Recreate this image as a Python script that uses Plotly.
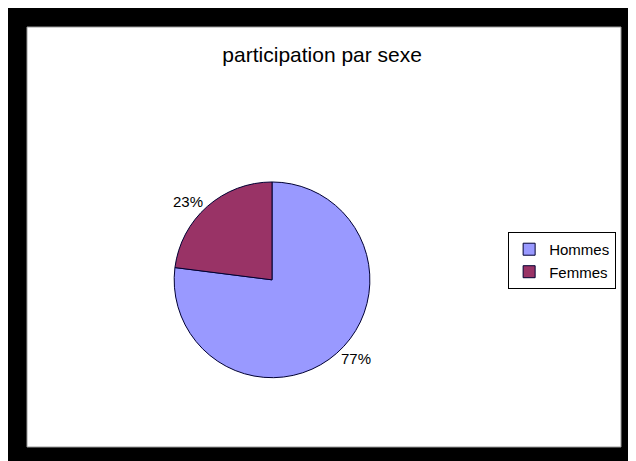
import plotly.graph_objects as go

title = "participation par sexe"
labels = ["Hommes", "Femmes"]
values = [77, 23]
colors = ["#9999FF", "#993366"]

fig = go.Figure()
fig.add_trace(go.Pie(
    labels=labels,
    values=values,
    sort=False,
    direction="clockwise",
    rotation=0,
    marker=dict(colors=colors, line=dict(color="#000033", width=1)),
    texttemplate="%{percent:.0%}",
    textposition="outside",
    textfont=dict(family="Liberation Sans", size=15, color="black"),
    domain=dict(x=[0.2125, 0.6125], y=[0.165, 0.631]),
    hoverinfo="label+percent",
))

fig.update_layout(
    width=636, height=461,
    margin=dict(l=19, r=23, t=19, b=22),
    paper_bgcolor="black",
    title=dict(text=title, x=0.494, xanchor="center", y=0.898, yanchor="middle",
               font=dict(family="Liberation Sans", size=21, color="black")),
    showlegend=True,
    legend=dict(x=0.81, xanchor="left", y=0.512, yanchor="top",
                bordercolor="black", borderwidth=1, bgcolor="white",
                itemwidth=30,
                font=dict(family="Liberation Sans", size=15, color="black")),
    shapes=[
        dict(type="rect", xref="paper", yref="paper", x0=0, x1=1, y0=0, y1=1,
             fillcolor="white", line=dict(color="#999999", width=1), layer="below"),
    ],
)

fig.write_html("out.html")
